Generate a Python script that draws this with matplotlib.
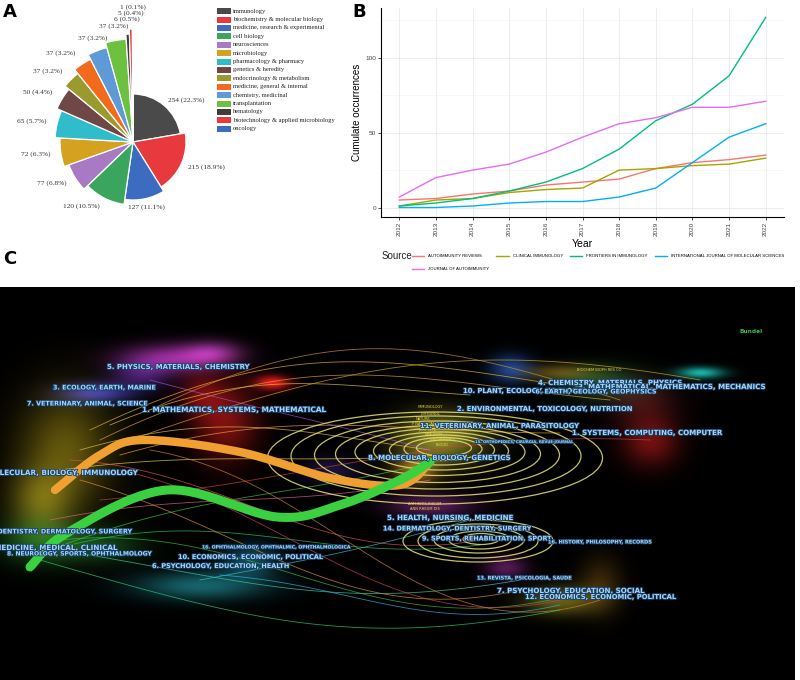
import numpy as np
import matplotlib.pyplot as plt
import matplotlib.patheffects as pe
from matplotlib.patches import Wedge, Rectangle, Ellipse

W, H = 800, 680

# ---------------- panel A data ----------------
subjects = ['immunology', 'biochemistry & molecular biology',
            'medicine, research & experimental', 'cell biology', 'neurosciences',
            'microbiology', 'pharmacology & pharmacy', 'genetics & heredity',
            'endocrinology & metabolism', 'medicine, general & internal',
            'chemistry, medicinal', 'transplantation', 'hematology',
            'biotechnology & applied microbiology', 'oncology']
counts = [254, 215, 127, 120, 77, 72, 65, 50, 37, 37, 37, 37, 6, 5, 1]
subject_colors = ['#4a4a4a', '#e8393f', '#3b6cc0', '#3aa55c', '#a87ac4',
                  '#d4a21f', '#2fbccb', '#6f4747', '#9b9a2e', '#f26b1d',
                  '#5d9ad6', '#6cc13f', '#3d3d3d', '#e8393f', '#3b6cc0']

# ---------------- panel B data ----------------
years = list(range(2012, 2023))
sources = ['AUTOIMMUNITY REVIEWS', 'CLINICAL IMMUNOLOGY', 'FRONTIERS IN IMMUNOLOGY',
           'INTERNATIONAL JOURNAL OF MOLECULAR SCIENCES', 'JOURNAL OF AUTOIMMUNITY']
occ_ar = [5, 6, 9, 11, 15, 17, 19, 26, 30, 32, 35]
occ_ci = [1, 5, 6, 10, 12, 13, 25, 26, 28, 29, 33]
occ_fii = [1, 3, 6, 11, 17, 26, 39, 58, 69, 88, 127]
occ_ijms = [0, 0, 1, 3, 4, 4, 7, 13, 30, 47, 56]
occ_joa = [7, 20, 25, 29, 37, 47, 56, 60, 67, 67, 71]
source_colors = ['#F8766D', '#A3A500', '#00BF7D', '#00B0F6', '#E76BF3']

# ---------------- panel C data (map coordinates) ----------------
citing_labels = ['5. PHYSICS, MATERIALS, CHEMISTRY', '3. ECOLOGY, EARTH, MARINE',
                 '7. VETERINARY, ANIMAL, SCIENCE', '1. MATHEMATICS, SYSTEMS, MATHEMATICAL',
                 '4. MOLECULAR, BIOLOGY, IMMUNOLOGY', '2. DENTISTRY, DERMATOLOGY, SURGERY',
                 '6. MEDICINE, MEDICAL, CLINICAL', '8. NEUROLOGY, SPORTS, OPHTHALMOLOGY',
                 '16. OPHTHALMOLOGY, OPHTHALMIC, OPHTHALMOLOGICA',
                 '10. ECONOMICS, ECONOMIC, POLITICAL', '6. PSYCHOLOGY, EDUCATION, HEALTH']
citing_x = [107, 53, 27, 142, 137, 133, 117, 7, 202, 178, 152]
citing_y = [367, 388, 404, 410, 473, 532, 548, 554, 547, 557, 566]
citing_ha = ['left', 'left', 'left', 'left', 'right', 'right', 'right', 'left', 'left', 'left', 'left']
citing_size = [5.0, 4.6, 4.6, 5.3, 5.2, 4.6, 5.2, 4.3, 3.3, 4.7, 4.7]

cited_labels = ['4. CHEMISTRY, MATERIALS, PHYSICS', '3. MATHEMATICAL, MATHEMATICS, MECHANICS',
                '10. PLANT, ECOLOGY, ZOOLOGY', '6. EARTH, GEOLOGY, GEOPHYSICS',
                '2. ENVIRONMENTAL, TOXICOLOGY, NUTRITION', '11. VETERINARY, ANIMAL, PARASITOLOGY',
                '1. SYSTEMS, COMPUTING, COMPUTER', '8. MOLECULAR, BIOLOGY, GENETICS',
                '15. ORTHOPEDICS, CIRURGIA, REVUE-JOURNAL', '5. HEALTH, NURSING, MEDICINE',
                '14. DERMATOLOGY, DENTISTRY, SURGERY', '9. SPORTS, REHABILITATION, SPORT',
                '16. HISTORY, PHILOSOPHY, RECORDS', '13. REVISTA, PSICOLOGIA, SAUDE',
                '7. PSYCHOLOGY, EDUCATION, SOCIAL', '12. ECONOMICS, ECONOMIC, POLITICAL']
cited_x = [538, 767, 463, 657, 457, 420, 572, 368, 475, 387, 383, 422, 548, 477, 497, 525]
cited_y = [383, 387, 391, 392, 409, 426, 433, 458, 442, 518, 529, 539, 542, 578, 591, 597]
cited_ha = ['left', 'right', 'left', 'right', 'left', 'left', 'left', 'left', 'left',
            'left', 'left', 'left', 'left', 'left', 'left', 'left']
cited_size = [5.1, 5.1, 4.9, 4.6, 4.9, 4.9, 5.1, 5.1, 2.7, 5.1, 4.6, 4.6, 3.6, 3.6, 5.1, 4.9]

journal_labels = ['BIOCHEM BIOPH RES CO', 'IMMUNOLOGY', 'J IMMUNOL', 'NATURE',
                  'P NATL ACAD SCI USA', 'J EXP MED', 'IMMUNITY', 'NAT IMMUNOL',
                  'BLOOD', 'ARTHRITIS RHEUM', 'ANN RHEUM DIS']
journal_x = [577, 418, 420, 416, 412, 418, 425, 430, 436, 408, 410]
journal_y = [370, 407, 414, 419, 424, 430, 435, 440, 445, 504, 509]

# glow clouds of the base maps: x, y, spread x, spread y, colour, strength
cloud_x = [170, 212, 95, 140, 225, 272, 200, 65, 40, 40, 100, 200, 250,
           510, 700, 600, 560, 650, 440, 415, 430, 505, 560, 600, 330, 640]
cloud_y = [358, 352, 392, 375, 420, 382, 395, 450, 500, 540, 545, 585, 560,
           368, 372, 382, 372, 440, 438, 470, 505, 567, 600, 585, 470, 400]
cloud_sx = [35, 20, 25, 20, 22, 12, 15, 32, 22, 28, 30, 45, 20,
            15, 16, 30, 25, 20, 30, 15, 30, 15, 25, 15, 20, 25]
cloud_sy = [10, 8, 7, 10, 28, 5, 15, 40, 22, 16, 12, 10, 12,
            10, 4, 12, 6, 18, 18, 10, 8, 8, 10, 20, 10, 15]
cloud_col = ['#d23cd2', '#e050e0', '#4a4ae8', '#8040e0', '#e01e1e', '#ff2020', '#d01818',
             '#e6c81e', '#e6d028', '#2fc03a', '#30b040', '#2ec4d4', '#30b8d8',
             '#2a6ae0', '#20e0d0', '#40c060', '#e0a020', '#e02020', '#e8e040', '#f0a030',
             '#c040c0', '#d040d0', '#e0d030', '#c08020', '#6040c0', '#e04040']
cloud_amp = [0.7, 0.5, 0.7, 0.4, 0.55, 0.9, 0.4, 0.42, 0.4, 0.45, 0.35, 0.5, 0.4,
             0.6, 0.8, 0.35, 0.4, 0.5, 0.6, 0.6, 0.45, 0.4, 0.45, 0.3, 0.3, 0.25]

# thin citation links: source, target, bends of the two control points, colour
link_sx = [90, 100, 110, 80, 120, 60, 50, 70, 60, 90, 200, 220, 70, 120, 50, 100, 80, 150, 150, 150, 40, 130]
link_sy = [430, 440, 425, 450, 455, 470, 550, 545, 540, 555, 580, 575, 460, 470, 520, 500, 480, 450, 380, 410, 560, 440]
link_tx = [560, 610, 470, 430, 560, 440, 440, 480, 550, 520, 470, 560, 480, 560, 430, 650, 520, 600, 430, 620, 560, 700]
link_ty = [385, 400, 395, 450, 433, 455, 460, 545, 600, 580, 520, 605, 540, 600, 480, 440, 590, 600, 450, 400, 610, 380]
link_b1 = [-90, -100, -60, -40, -50, -20, -60, -40, -20, 30, -20, 10, 10, 40, -30, -20, 50, 30, 30, -90, 60, -80]
link_b2 = [-30, -20, -10, -20, 0, 10, 40, 20, 40, 30, 30, 30, 30, 40, 30, -10, 40, 60, -30, -60, 40, -40]
link_col = ['#e8b030', '#d8a040', '#e0c040', '#e0c040', '#f0a030', '#e8d040', '#40c040',
            '#30c050', '#38b848', '#40c8a0', '#30c0d0', '#30b0e0', '#e05050', '#d04060',
            '#e06080', '#c04040', '#e09030', '#d08030', '#a050d0', '#c89040', '#30c870', '#d0a030']

# ring systems around the two main cited clusters
ring_cx = [435, 436, 437, 438, 440, 441, 442, 443, 444, 478, 478, 479, 480, 481]
ring_cy = [458, 456, 455, 454, 452, 451, 450, 449, 448, 541, 541, 540, 540, 539]
ring_w = [335, 290, 245, 205, 170, 135, 105, 78, 55, 150, 120, 90, 62, 36]
ring_h = [92, 80, 68, 57, 47, 38, 30, 23, 16, 42, 34, 26, 18, 11]

# the two thick trajectories (waypoints)
orange_x = [55, 100, 143, 240, 330, 400, 430]
orange_y = [490, 455, 440, 452, 478, 485, 462]
green_x = [30, 67, 167, 277, 340, 400, 430]
green_y = [567, 533, 490, 517, 505, 480, 462]


def px_rect(x0, y0, x1, y1):
    return [x0 / W, 1 - y1 / H, (x1 - x0) / W, (y1 - y0) / H]


def smooth(xs, ys, n=30):
    # Catmull-Rom through the waypoints
    px = np.array([xs[0]] + list(xs) + [xs[-1]], float)
    py = np.array([ys[0]] + list(ys) + [ys[-1]], float)
    t = np.linspace(0, 1, n)[:, None]
    ox, oy = [], []
    for i in range(1, len(px) - 2):
        for arr, out in ((px, ox), (py, oy)):
            p0, p1, p2, p3 = arr[i - 1], arr[i], arr[i + 1], arr[i + 2]
            seg = 0.5 * (2 * p1 + (-p0 + p2) * t + (2 * p0 - 5 * p1 + 4 * p2 - p3) * t ** 2
                         + (-p0 + 3 * p1 - 3 * p2 + p3) * t ** 3)
            out.extend(seg.ravel())
    return np.array(ox), np.array(oy)


def bezier(x0, y0, x1, y1, b1, b2, n=60):
    t = np.linspace(0, 1, n)
    cx1, cy1 = x0 + 0.4 * (x1 - x0), y0 + b1
    cx2, cy2 = x0 + 0.6 * (x1 - x0), y1 + b2
    bx = (1 - t) ** 3 * x0 + 3 * (1 - t) ** 2 * t * cx1 + 3 * (1 - t) * t ** 2 * cx2 + t ** 3 * x1
    by = (1 - t) ** 3 * y0 + 3 * (1 - t) ** 2 * t * cy1 + 3 * (1 - t) * t ** 2 * cy2 + t ** 3 * y1
    return bx, by


fig = plt.figure(figsize=(8, 6.8), dpi=100)
fig.patch.set_facecolor('white')

# ================= A: pie with growing radii =================
axA = fig.add_axes(px_rect(3, 12, 263, 272))
axA.set_xlim(-130, 130)
axA.set_ylim(-130, 130)
axA.set_aspect('equal')
axA.axis('off')
total = sum(counts)
cum = 0
for i, (c, col) in enumerate(zip(counts, subject_colors)):
    a_start = 90 - cum / total * 360
    a_end = 90 - (cum + c) / total * 360
    r = 48 + 5 * i
    axA.add_patch(Wedge((0, 0), r, a_end, a_start, facecolor=col,
                        edgecolor='white', linewidth=0.9))
    mid = np.deg2rad((a_start + a_end) / 2)
    cs = np.cos(mid)
    ha = 'left' if cs > 0.3 else ('right' if cs < -0.4 else 'center')
    axA.text(1.14 * r * cs, 1.14 * r * np.sin(mid), f'{c} ({100 * c / total:.1f}%)',
             ha=ha, va='center', fontsize=5.3, family='Liberation Serif', color='#333333')
    cum += c

# legend of panel A
axL = fig.add_axes(px_rect(215, 7, 345, 133))
axL.set_xlim(0, 130)
axL.set_ylim(len(subjects) - 0.5, -0.5)
axL.axis('off')
for i, (s, col) in enumerate(zip(subjects, subject_colors)):
    axL.add_patch(Rectangle((2, i - 0.36), 14, 0.72, facecolor=col, edgecolor='none'))
    axL.text(18, i, s, va='center', ha='left', fontsize=4.7,
             family='Liberation Serif', color='#222222')

# ================= B: cumulative occurrences =================
axB = fig.add_axes(px_rect(381, 8, 784, 217))
series = [occ_ar, occ_ci, occ_fii, occ_ijms, occ_joa]
handles = []
for name, vals, col in zip(sources, series, source_colors):
    h, = axB.plot(years, vals, color=col, linewidth=1.0, label=name)
    handles.append(h)
axB.set_xlim(2011.5, 2022.5)
axB.set_ylim(-6.35, 133.35)
axB.set_xticks(years)
axB.set_xticklabels([str(y) for y in years], rotation=90, fontsize=4.6,
                    family='Liberation Sans', color='#444444')
axB.set_yticks([0, 50, 100])
axB.set_yticklabels(['0', '50', '100'], fontsize=4.6, family='Liberation Sans', color='#444444')
axB.set_yticks([25, 75, 125], minor=True)
axB.grid(True, which='major', color='#e6e6e6', linewidth=0.5)
axB.grid(True, which='minor', color='#f2f2f2', linewidth=0.4)
axB.set_axisbelow(True)
for side in ('top', 'right'):
    axB.spines[side].set_visible(False)
for side in ('left', 'bottom'):
    axB.spines[side].set_linewidth(0.8)
axB.tick_params(length=2, width=0.5, pad=1.5)
axB.tick_params(which='minor', length=0)
axB.set_xlabel('Year', fontsize=7.5, family='Liberation Sans', labelpad=2)
axB.set_ylabel('Cumulate occurrences', fontsize=7, family='Liberation Sans', labelpad=2)

order = [0, 4, 1, 2, 3]
fig.legend([handles[k] for k in order], [sources[k] for k in order], ncol=4,
           loc='upper left', bbox_to_anchor=(412 / W, 1 - 254 / H), frameon=False,
           prop={'family': 'Liberation Sans', 'size': 3.1}, handlelength=2.9,
           handletextpad=0.9, columnspacing=1.6, labelspacing=2.1, borderpad=0,
           borderaxespad=0)
fig.text(382 / W, 1 - 256 / H, 'Source', fontsize=7, family='Liberation Sans',
         va='center', ha='left', color='#222222')

# ================= C: dual-map overlay =================
axC = fig.add_axes(px_rect(0, 287, 795, 680))
axC.set_facecolor('black')
axC.set_xlim(0, 795)
axC.set_ylim(680, 287)
axC.set_xticks([])
axC.set_yticks([])
for sp in axC.spines.values():
    sp.set_visible(False)

gx = np.arange(0, 795, 1.5)
gy = np.arange(287, 680, 1.5)
GX, GY = np.meshgrid(gx, gy)
img = np.zeros(GX.shape + (3,))
for x, y, sx, sy, col, amp in zip(cloud_x, cloud_y, cloud_sx, cloud_sy, cloud_col, cloud_amp):
    rgb = np.array([int(col[k:k + 2], 16) / 255 for k in (1, 3, 5)])
    g = amp * np.exp(-0.5 * (((GX - x) / sx) ** 2 + ((GY - y) / sy) ** 2))
    img += g[..., None] * rgb
axC.imshow(np.clip(img, 0, 1), extent=(0, 795, 680, 287), origin='upper',
           aspect='auto', interpolation='bilinear', zorder=1)

for x0, y0, x1, y1, b1, b2, col in zip(link_sx, link_sy, link_tx, link_ty,
                                        link_b1, link_b2, link_col):
    bx, by = bezier(x0, y0, x1, y1, b1, b2)
    axC.plot(bx, by, color=col, linewidth=0.6, alpha=0.75, zorder=2)

for cx, cy, w, h in zip(ring_cx, ring_cy, ring_w, ring_h):
    axC.add_patch(Ellipse((cx, cy), w, h, fill=False, edgecolor='#e6e27a',
                          linewidth=0.9, alpha=0.85, zorder=3))

ox, oy = smooth(orange_x, orange_y)
axC.plot(ox, oy, color='#f0a030', linewidth=6, solid_capstyle='round', zorder=4)
gx2, gy2 = smooth(green_x, green_y)
axC.plot(gx2, gy2, color='#3ad040', linewidth=6.5, solid_capstyle='round', zorder=4)

glow = [pe.withStroke(linewidth=1.2, foreground='#16406e')]
for s, x, y, ha, fs in zip(citing_labels, citing_x, citing_y, citing_ha, citing_size):
    axC.text(x, y, s, ha=ha, va='center', fontsize=fs, family='DejaVu Sans',
             fontweight='bold', color='#a8d4f2', path_effects=glow, zorder=6, clip_on=True)
for s, x, y, ha, fs in zip(cited_labels, cited_x, cited_y, cited_ha, cited_size):
    axC.text(x, y, s, ha=ha, va='center', fontsize=fs, family='DejaVu Sans',
             fontweight='bold', color='#a8d4f2', path_effects=glow, zorder=6, clip_on=True)
for s, x, y in zip(journal_labels, journal_x, journal_y):
    axC.text(x, y, s, ha='left', va='center', fontsize=2.6, color='#e8d84a', zorder=5)
axC.text(740, 332, 'Bundel', fontsize=4.2, color='#3cbf4a', fontweight='bold',
         ha='left', va='center', zorder=6)

# panel letters
fig.text(3 / W, 1 - 12 / H, 'A', fontsize=13, fontweight='bold', va='center', ha='left')
fig.text(352 / W, 1 - 12 / H, 'B', fontsize=13, fontweight='bold', va='center', ha='left')
fig.text(3 / W, 1 - 259 / H, 'C', fontsize=13, fontweight='bold', va='center', ha='left')

fig.savefig('out.png', dpi=100, facecolor='white')
